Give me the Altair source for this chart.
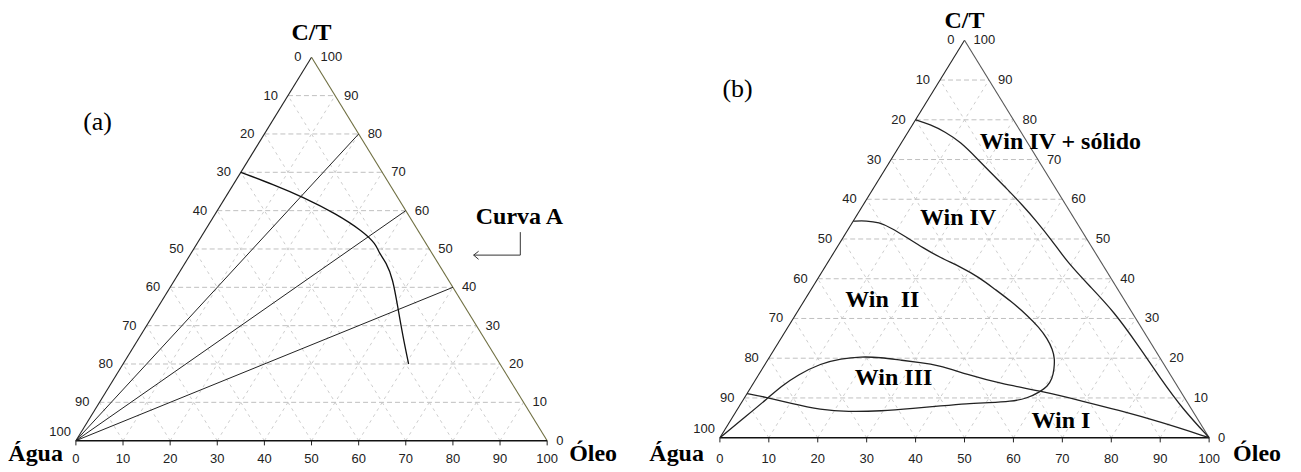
import altair as alt
import pandas as pd

# ---------------- data ----------------
grid_levels = [10, 20, 30, 40, 50, 60, 70, 80, 90]
tick_values = [0, 10, 20, 30, 40, 50, 60, 70, 80, 90, 100]

# Panel (a): rays from the Água vertex to the right edge (C/T %)
a_ray_ct = [80, 60, 40]
# Panel (a): "Curva A" (Óleo %, C/T %)
curva_a_oleo = [0, 8.5, 16.5, 25.6, 33.6, 38.0, 40.0, 42.5, 46.1, 51.1, 55.6, 60.6]
curva_a_ct = [70, 66.8, 63.5, 59.2, 54.6, 51.3, 48.8, 46.6, 42.3, 34.5, 27.5, 20.0]

# Panel (b): boundary Win IV / Win IV + sólido
b_c1_oleo = [0, 3.6, 7.5, 12.0, 17.5, 22.4, 27.4, 32.6, 37.7, 43.2, 48.9, 56.7, 64.7, 73.6, 82.6, 91.0, 100]
b_c1_ct = [80, 78.8, 77.0, 74.4, 70.2, 66.4, 62.6, 58.5, 54.3, 49.5, 44.2, 38.0, 31.7, 23.5, 14.9, 7.2, 0]
# Panel (b): Win II loop
b_c2_oleo = [0, 2.7, 5.4, 8.6, 12.8, 17.6, 22.4, 27.7, 32.9, 37.3, 42.4, 47.4, 51.3, 54.5, 56.9,
             58.5, 59.7, 60.5, 60.5, 59.7, 57.9, 54.9, 50.6, 46.2, 41.1, 36.0, 29.6, 22.9, 17.1,
             10.2, 3.9, 0]
b_c2_ct = [54.5, 54.6, 54.2, 52.8, 50.5, 47.8, 45.3, 43.0, 40.3, 37.5, 34.3, 30.8, 27.8, 24.9, 22.2,
           19.9, 17.2, 14.9, 12.9, 11.6, 9.9, 9.1, 8.8, 8.6, 8.0, 7.4, 6.7, 6.5, 7.0,
           8.6, 10.3, 11.1]
# Panel (b): Win III / Win I boundary
b_c3_oleo = [0, 2.8, 4.8, 6.0, 8.0, 11.3, 14.8, 18.6, 22.8, 27.2, 31.6, 35.3, 42.6, 50.5, 60.4, 69.9, 77.7, 88.0, 100]
b_c3_ct = [0, 5.7, 9.9, 12.8, 15.8, 18.7, 19.9, 20.4, 20.2, 19.5, 18.9, 18.3, 15.9, 13.6, 11.6, 9.1, 7.0, 4.0, 0]

# annotation texts and anchor points (in the triangle's x/y units)
a_notes = ["(a)", "Curva A"]
a_notes_x = [4.6, 94.1]
a_notes_y = [83.1, 58.3]
a_arrow_x = [94.3, 94.3, 84.4]
a_arrow_y = [54.4, 48.4, 48.4]
a_head_x = [85.45, 84.4, 85.45]
a_head_y = [49.4, 48.4, 47.3]

b_regions = ["Win IV + sólido", "Win IV", "Win\u00a0\u00a0II", "Win III", "Win I"]
b_regions_x = [69.6, 48.7, 33.2, 35.5, 69.7]
b_regions_y = [74.4, 55.3, 34.6, 14.9, 4.2]
b_tag = ["(b)"]
b_tag_x = [3.6]
b_tag_y = [87.8]


# ---------------- helpers ----------------
def xy(oleo, ct):
    return oleo + ct / 2.0, ct


def lines_df(segments):
    rows = []
    for sid, pts in segments:
        for i, (o, c) in enumerate(pts):
            x, y = xy(o, c)
            rows.append({"id": sid, "i": i, "x": x, "y": y})
    return pd.DataFrame(rows)


SERIF = "Liberation Serif, Times New Roman, serif"
SANS = "Liberation Sans Narrow, Liberation Sans, Arial, sans-serif"


def panel(geo, right_edge_color, curves, notes, title_y, name_pos):
    ox, base, sx, sy, vl, vr = geo
    W = vr - vl
    H = 456
    xs = alt.Scale(domain=[(vl - ox) / sx, (vr - ox) / sx], nice=False, zero=False)
    ys = alt.Scale(domain=[(base - 464) / sy, (base - 8) / sy], nice=False, zero=False)
    X = alt.X("x:Q", scale=xs, axis=None)
    Y = alt.Y("y:Q", scale=ys, axis=None)

    hgrid = lines_df([(f"h{k}", [(0, k), (100 - k, k)]) for k in grid_levels])
    dgrid = lines_df([(f"o{k}", [(k, 0), (k, 100 - k)]) for k in grid_levels] +
                     [(f"w{k}", [(100 - k, 0), (0, 100 - k)]) for k in grid_levels])
    left_e = lines_df([("l", [(0, 0), (0, 100)])])
    right_e = lines_df([("r", [(0, 100), (100, 0)])])
    bottom_e = lines_df([("b", [(0, 0), (100, 0)])])

    def seg(df, **kw):
        return alt.Chart(df).mark_line(**kw).encode(x=X, y=Y, detail="id:N", order="i:Q")

    layers = [
        seg(dgrid, color="#cdcdcd", strokeWidth=1, strokeDash=[3, 4]),
        seg(hgrid, color="#c0c0c0", strokeWidth=1, strokeDash=[5, 3]),
    ]
    ticks = pd.DataFrame({"x": tick_values, "y": [0] * len(tick_values),
                          "y2": [-4.7 / sy] * len(tick_values)})
    layers.append(alt.Chart(ticks).mark_rule(color="#222", strokeWidth=1).encode(
        x=X, y=Y, y2="y2:Q"))
    layers += [
        seg(left_e, color="#222", strokeWidth=1.1),
        seg(right_e, color=right_edge_color, strokeWidth=1.1),
        seg(bottom_e, color="#111", strokeWidth=1.6),
    ]
    for df, kw in curves:
        layers.append(seg(df, **kw))

    # tick labels
    lv = [v for v in tick_values if v != 100]
    left_lab = pd.DataFrame({"t": [str(v) for v in lv],
                             "x": [xy(0, 100 - v)[0] for v in lv],
                             "y": [100 - v for v in lv]})
    left_100 = pd.DataFrame({"t": ["100"], "x": [0.0], "y": [0.0]})
    right_lab = pd.DataFrame({"t": [str(v) for v in tick_values],
                              "x": [xy(100 - v, v)[0] for v in tick_values],
                              "y": tick_values})
    bot_lab = pd.DataFrame({"t": [str(v) for v in tick_values],
                            "x": tick_values, "y": [0] * len(tick_values)})
    lab = dict(font=SANS, fontSize=13, color="#222", baseline="middle")
    layers += [
        alt.Chart(left_lab).mark_text(align="right", dx=-10, **lab).encode(x=X, y=Y, text="t:N"),
        alt.Chart(left_100).mark_text(align="right", dx=-5, dy=-9, **lab).encode(x=X, y=Y, text="t:N"),
        alt.Chart(right_lab).mark_text(align="left", dx=9, **lab).encode(x=X, y=Y, text="t:N"),
        alt.Chart(bot_lab).mark_text(align="center", dy=457 - base, **lab).encode(x=X, y=Y, text="t:N"),
    ]
    # vertex names
    nm = dict(font=SERIF, fontSize=24, fontWeight="bold", color="#000", baseline="alphabetic")
    layers += [
        alt.Chart(pd.DataFrame({"t": ["C/T"], "x": [50.0], "y": [title_y]})).mark_text(
            align="center", **nm).encode(x=X, y=Y, text="t:N"),
        alt.Chart(pd.DataFrame({"t": ["Água"], "x": [name_pos[0]], "y": [name_pos[2]]})).mark_text(
            align="right", **nm).encode(x=X, y=Y, text="t:N"),
        alt.Chart(pd.DataFrame({"t": ["Óleo"], "x": [name_pos[1]], "y": [name_pos[2]]})).mark_text(
            align="left", **nm).encode(x=X, y=Y, text="t:N"),
    ]
    layers += notes(X, Y)
    return alt.layer(*layers).properties(
        width=W, height=H, view=alt.ViewBackground(stroke="transparent", strokeWidth=0))


# ---- panel (a) ----
curve_a = lines_df([("A", list(zip(curva_a_oleo, curva_a_ct)))])
rays = lines_df([(f"r{c}", [(0, 0), (100 - c, c)]) for c in a_ray_ct])
arrow = pd.DataFrame({"id": ["s"] * 3 + ["h"] * 3, "i": [0, 1, 2, 0, 1, 2],
                      "x": a_arrow_x + a_head_x, "y": a_arrow_y + a_head_y})


def notes_a(X, Y):
    return [
        alt.Chart(arrow).mark_line(color="#333", strokeWidth=1).encode(
            x=X, y=Y, detail="id:N", order="i:Q"),
        alt.Chart(pd.DataFrame({"t": a_notes[:1], "x": a_notes_x[:1], "y": a_notes_y[:1]})).mark_text(
            font=SERIF, fontSize=26, color="#000", baseline="middle", align="center").encode(
            x=X, y=Y, text="t:N"),
        alt.Chart(pd.DataFrame({"t": a_notes[1:], "x": a_notes_x[1:], "y": a_notes_y[1:]})).mark_text(
            font=SERIF, fontSize=24, fontWeight="bold", color="#000", baseline="middle",
            align="center").encode(x=X, y=Y, text="t:N"),
    ]


pa = panel((76, 439, 4.72, 3.84, 8, 650), "#6e6e40",
           [(rays, dict(color="#222", strokeWidth=1)),
            (curve_a, dict(color="#111", strokeWidth=1.3, interpolate="basis"))],
           notes_a, (439 - 38) / 3.84, ((63 - 76) / 4.72, (570 - 76) / 4.72, (439 - 459) / 3.84))

# ---- panel (b) ----
c1 = lines_df([("c1", list(zip(b_c1_oleo, b_c1_ct)))])
c2 = lines_df([("c2", list(zip(b_c2_oleo, b_c2_ct)))])
c3 = lines_df([("c3", list(zip(b_c3_oleo, b_c3_ct)))])


def notes_b(X, Y):
    return [
        alt.Chart(pd.DataFrame({"t": b_regions, "x": b_regions_x, "y": b_regions_y})).mark_text(
            font=SERIF, fontSize=24, fontWeight="bold", color="#000", baseline="middle",
            align="center").encode(x=X, y=Y, text="t:N"),
        alt.Chart(pd.DataFrame({"t": b_tag, "x": b_tag_x, "y": b_tag_y})).mark_text(
            font=SERIF, fontSize=26, color="#000", baseline="middle", align="center").encode(
            x=X, y=Y, text="t:N"),
    ]


pb = panel((719, 436, 4.90, 3.98, 650, 1293), "#555",
           [(c1, dict(color="#222", strokeWidth=1.3, interpolate="basis")),
            (c2, dict(color="#222", strokeWidth=1.3, interpolate="basis")),
            (c3, dict(color="#222", strokeWidth=1.3, interpolate="basis"))],
           notes_b, (436 - 26) / 3.98, ((703 - 719) / 4.9, (1233 - 719) / 4.9, (436 - 459) / 3.98))

chart = alt.hconcat(pa, pb, spacing=0).properties(
    padding=0, background="white").configure_view(stroke="transparent", strokeWidth=0)

chart.save("out.html", embed_options={"renderer": "svg", "actions": False})
